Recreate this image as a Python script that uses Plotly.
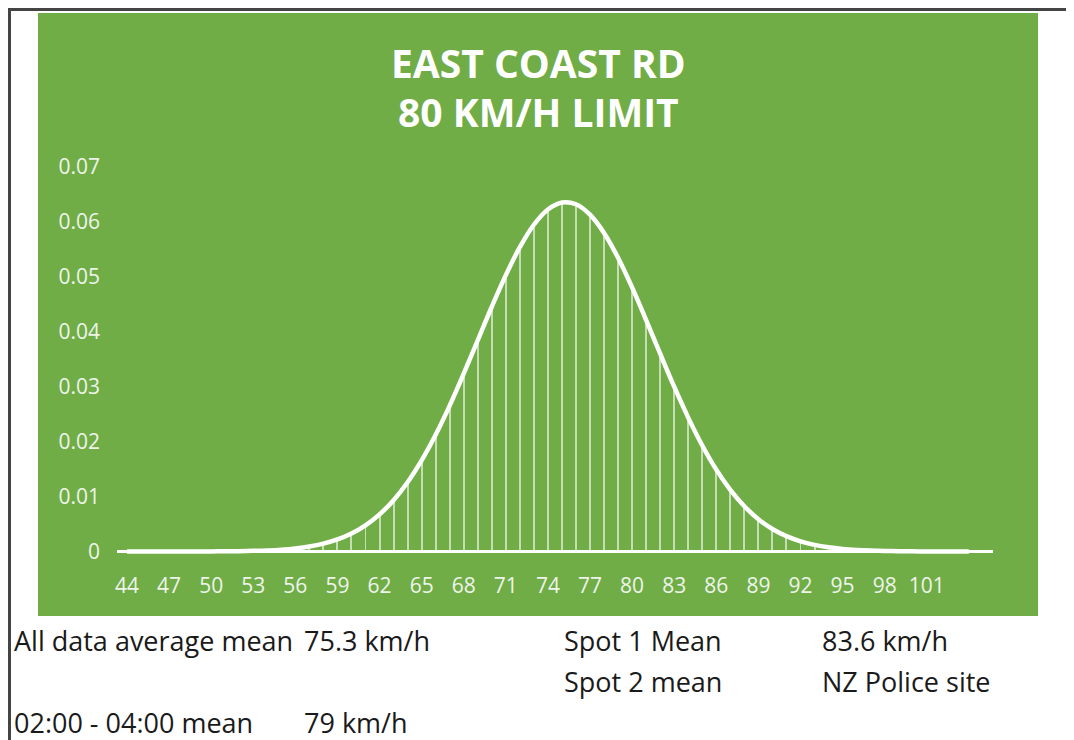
import plotly.graph_objects as go

# ---- data ----
speeds = list(range(44, 105))
density = [
    0.0000003, 0.0000006, 0.0000012, 0.0000025, 0.0000050, 0.0000099, 0.0000190, 0.0000356,
    0.0000652, 0.000116, 0.000202, 0.000342, 0.000565, 0.000910, 0.00143, 0.00219,
    0.00327, 0.00475, 0.00675, 0.00933, 0.01259, 0.01656, 0.02122, 0.02652,
    0.03233, 0.03841, 0.04450, 0.05025, 0.05533, 0.05941, 0.06218, 0.06346,
    0.06314, 0.06124, 0.05792, 0.05341, 0.04802, 0.04208, 0.03596, 0.02996,
    0.02434, 0.01928, 0.01488, 0.01120, 0.00822, 0.00588, 0.00410, 0.00279,
    0.00185, 0.00120, 0.000755, 0.000464, 0.000278, 0.000162, 0.000092, 0.000051,
    0.000028, 0.000015, 0.0000075, 0.0000038, 0.0000018,
]
x_tick_vals = list(range(44, 102, 3))
y_tick_vals = [0, 0.01, 0.02, 0.03, 0.04, 0.05, 0.06, 0.07]
y_tick_text = ["0", "0.01", "0.02", "0.03", "0.04", "0.05", "0.06", "0.07"]
title_lines = ["EAST COAST RD", "80 KM/H LIMIT"]
notes = [
    ("All data average mean", 12, 640),
    ("75.3 km/h", 302, 640),
    ("Spot 1 Mean", 562, 640),
    ("83.6 km/h", 820, 640),
    ("Spot 2 mean", 562, 681),
    ("NZ Police site", 820, 681),
    ("02:00 - 04:00 mean", 12, 722),
    ("79 km/h", 302, 722),
]

# ---- layout geometry (page pixels; the page adds an 8px body margin) ----
OFF = 8
W, H = 1074 - OFF, 740 - OFF
ML, MR, MT, MB = 117 - OFF, 81, 164 - OFF, 183
PW = W - ML - MR
PH = H - MT - MB


def px(xp):
    return (xp - OFF - ML) / PW


def py(yp):
    return (H - MB - (yp - OFF)) / PH


GREEN = "#70AD47"
TICK_COL = "#EEF4EA"
FONT = "Open Sans"

fig = go.Figure()
fig.add_trace(go.Bar(
    x=speeds, y=density, width=0.14,
    marker=dict(color="rgba(255,255,255,0.6)", line=dict(width=0)),
    hoverinfo="skip", showlegend=False,
))
fig.add_trace(go.Scatter(
    x=speeds, y=density, mode="lines",
    line=dict(color="white", width=4.5, shape="spline"),
    showlegend=False,
))

shapes = [
    dict(type="rect", xref="paper", yref="paper",
         x0=px(38), x1=px(1038), y0=py(616), y1=py(13),
         fillcolor=GREEN, line=dict(width=0), layer="below"),
    dict(type="line", xref="paper", yref="paper",
         x0=px(9.5), x1=px(9.5), y0=py(8.5), y1=py(745),
         line=dict(color="#444444", width=3)),
    dict(type="line", xref="paper", yref="paper",
         x0=px(8), x1=px(1080), y0=py(9.5), y1=py(9.5),
         line=dict(color="#444444", width=3)),
]

annotations = [
    dict(text=title_lines[0], x=px(538), y=py(63), xref="paper", yref="paper",
         xanchor="center", yanchor="middle", showarrow=False,
         font=dict(family=FONT, size=39, color="white", weight="bold")),
    dict(text=title_lines[1], x=px(538), y=py(112), xref="paper", yref="paper",
         xanchor="center", yanchor="middle", showarrow=False,
         font=dict(family=FONT, size=39, color="white", weight="bold")),
]
for txt, xx, yy in notes:
    annotations.append(dict(
        text=txt, x=px(xx), y=py(yy), xref="paper", yref="paper",
        xanchor="left", yanchor="middle", showarrow=False,
        font=dict(family=FONT, size=27, color="#1a1a1a"),
    ))

fig.update_layout(
    width=W, height=H,
    margin=dict(l=ML, r=MR, t=MT, b=MB, pad=0),
    paper_bgcolor="white",
    plot_bgcolor=GREEN,
    bargap=0,
    shapes=shapes,
    annotations=annotations,
    xaxis=dict(
        range=[43.29, 105.72], tickmode="array", tickvals=x_tick_vals,
        showgrid=False, zeroline=False, showline=False,
        ticks="", ticklabelstandoff=14,
        tickfont=dict(family=FONT, size=21, color=TICK_COL),
        fixedrange=True,
    ),
    yaxis=dict(
        range=[-0.001, -0.001 + PH / 5500.0], tickmode="array",
        tickvals=y_tick_vals, ticktext=y_tick_text,
        showgrid=False, zeroline=True, zerolinecolor="white", zerolinewidth=3,
        showline=False, ticks="", ticklabelstandoff=16,
        tickfont=dict(family=FONT, size=21, color=TICK_COL),
        fixedrange=True,
    ),
)

fig.write_html("out.html")
